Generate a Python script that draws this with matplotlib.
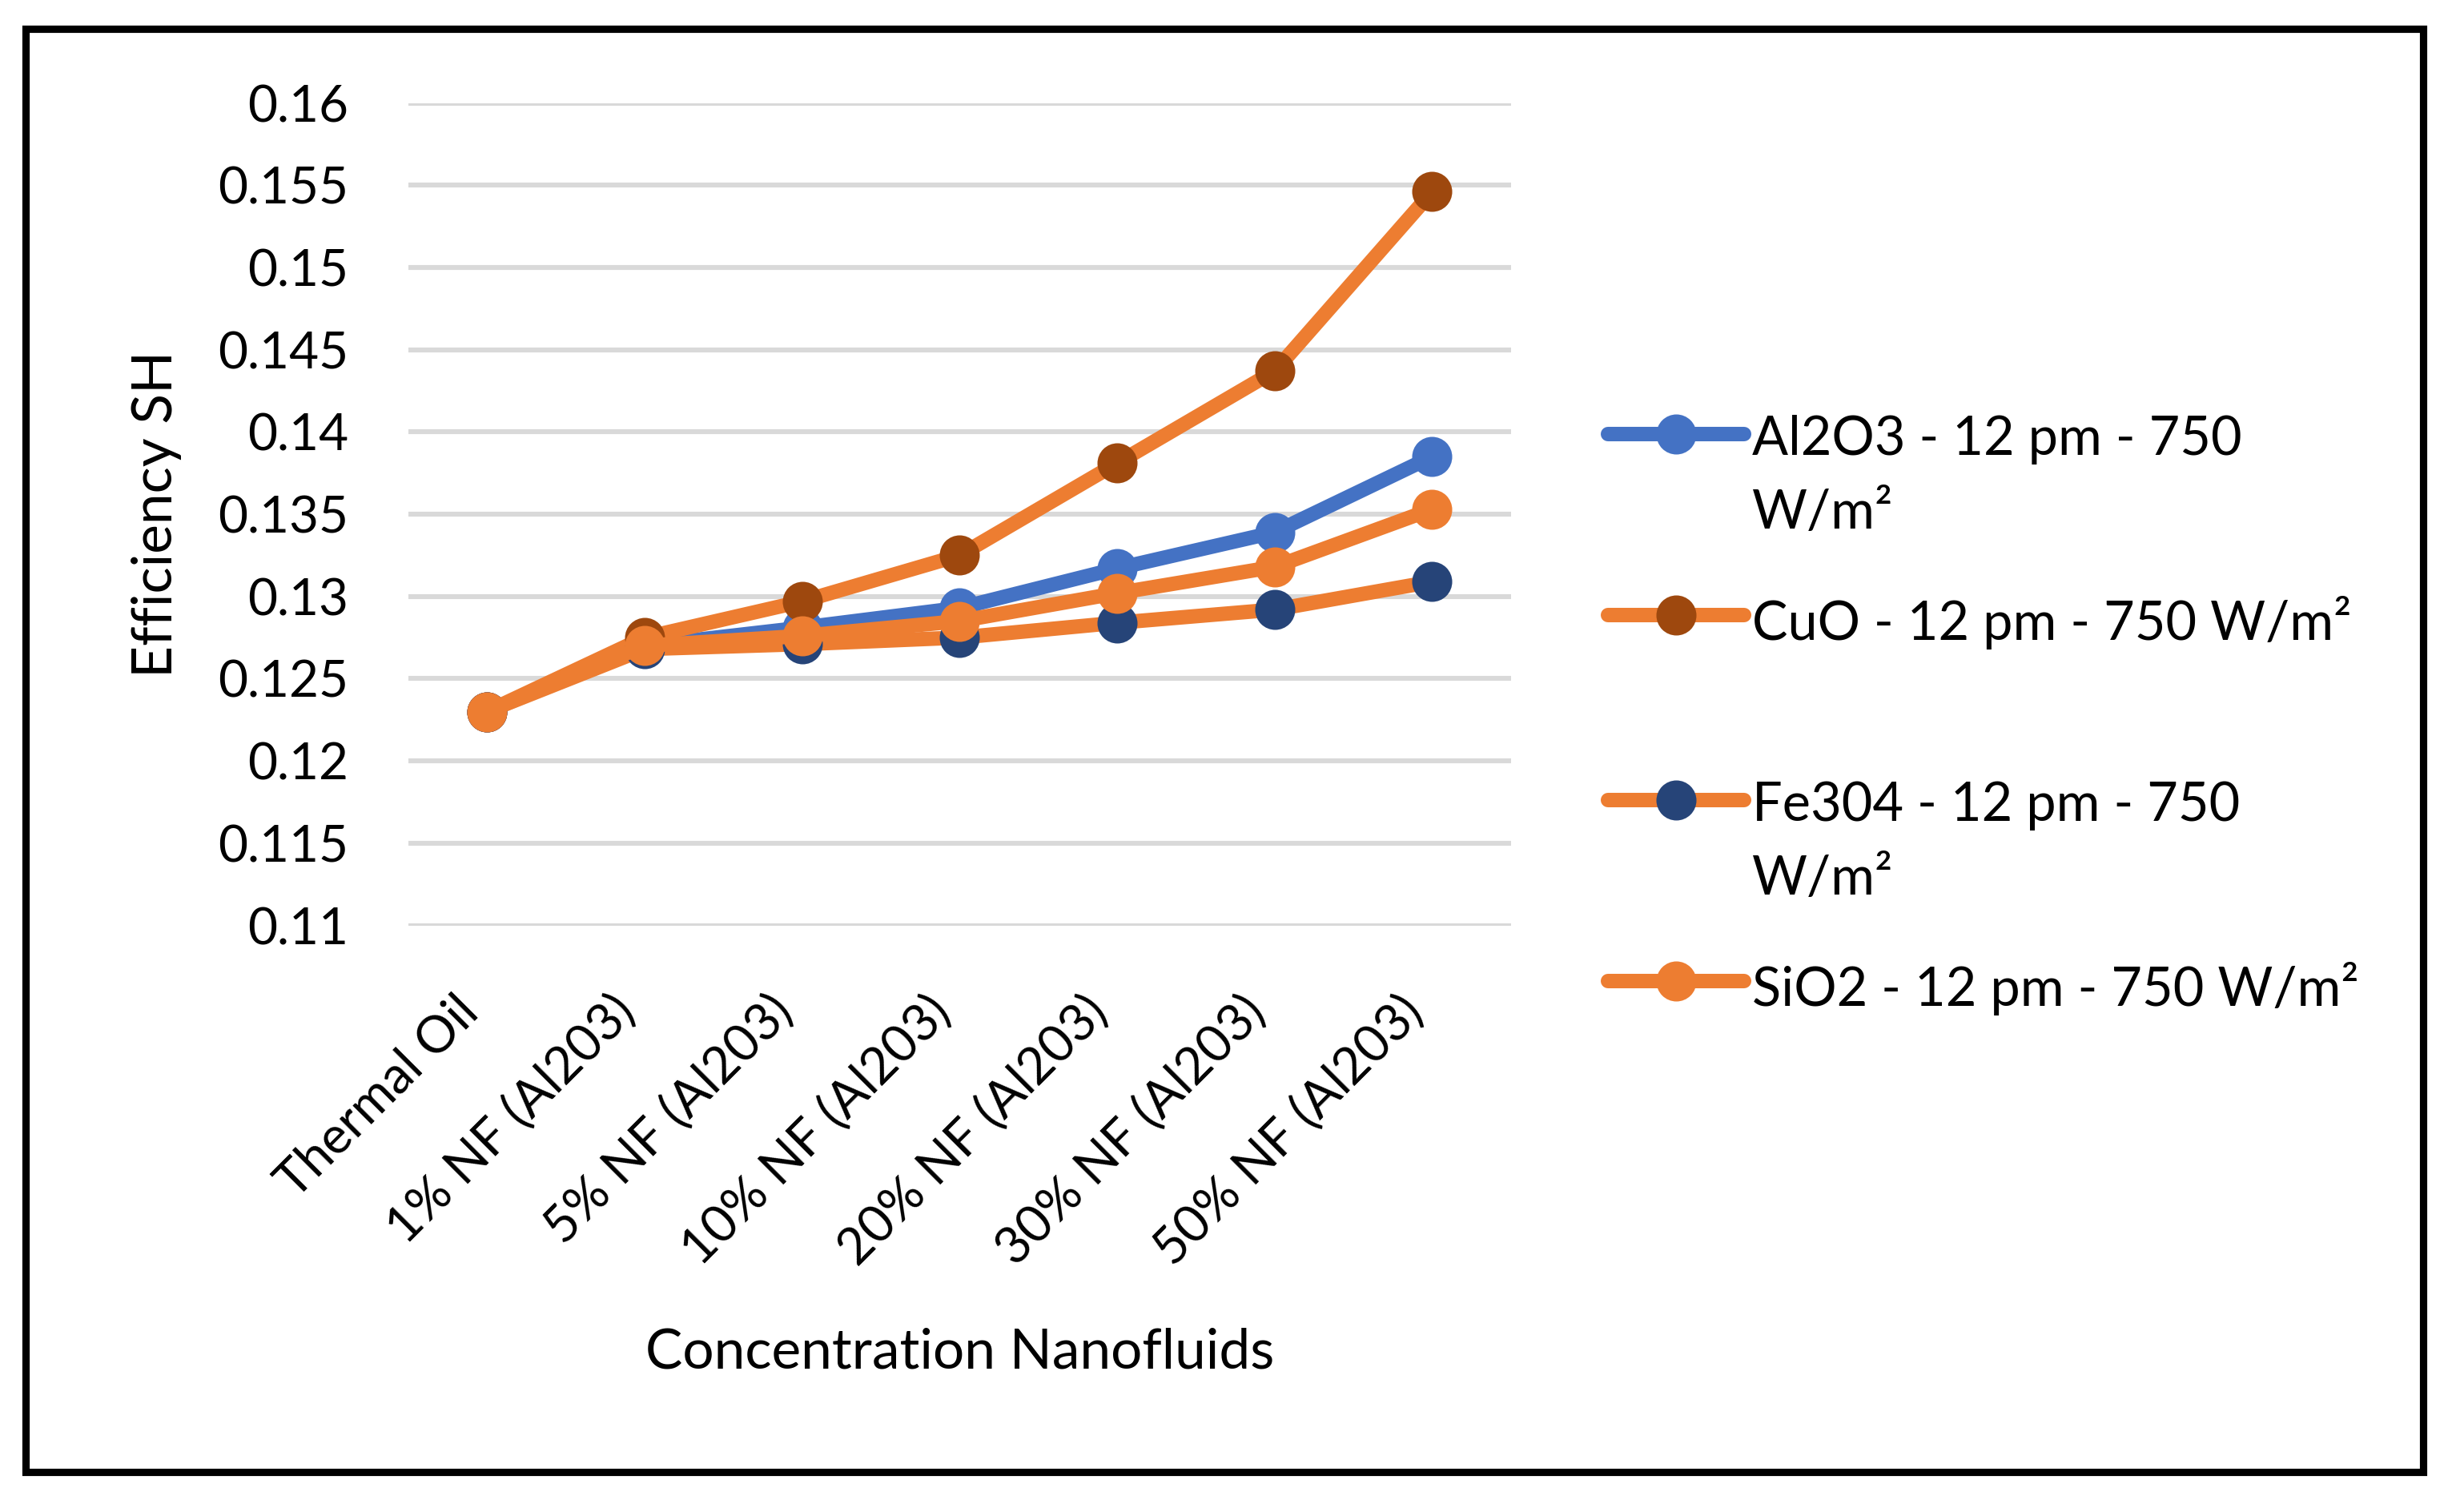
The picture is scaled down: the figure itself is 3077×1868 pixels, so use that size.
import matplotlib
matplotlib.use("Agg")
import matplotlib.pyplot as plt
from matplotlib.patches import Rectangle

plt.rcParams['font.family'] = ['Lato', 'DejaVu Sans']

categories = ["Thermal Oil", "1% NF (Al203)", "5% NF (Al203)", "10% NF (Al203)",
              "20% NF (Al203)", "30% NF (Al203)", "50% NF (Al203)"]

al2o3 = [0.1230, 0.1270, 0.1281, 0.1293, 0.1317, 0.1339, 0.1385]
cuo = [0.1230, 0.1275, 0.1297, 0.1325, 0.1381, 0.1437, 0.1546]
fe3o4 = [0.1230, 0.1268, 0.1271, 0.1275, 0.1284, 0.1292, 0.1309]
sio2 = [0.1230, 0.1270, 0.1276, 0.1285, 0.1302, 0.1318, 0.1353]

# second line kept empty for the short labels so every legend slot has the same height
labels = ["Al2O3 - 12 pm - 750\nW/m²", "CuO - 12 pm - 750 W/m²\n ",
          "Fe304 - 12 pm - 750\nW/m²", "SiO2 - 12 pm - 750 W/m²\n "]
line_colors = ["#4472C4", "#ED7D31", "#ED7D31", "#ED7D31"]
marker_colors = ["#4472C4", "#9E480E", "#264478", "#ED7D31"]

yticks = [0.11, 0.115, 0.12, 0.125, 0.13, 0.135, 0.14, 0.145, 0.15, 0.155, 0.16]

fig = plt.figure(figsize=(15.385, 9.34), dpi=200)
ax = fig.add_axes([0.1657, 0.3814, 0.4475, 0.5498])

x = range(len(categories))
for vals, lab, lc, mc in zip([al2o3, cuo, fe3o4, sio2], labels, line_colors, marker_colors):
    ax.plot(x, vals, '-o', color=lc, lw=6.5, markersize=17,
            markerfacecolor=mc, markeredgecolor=mc, label=lab,
            solid_capstyle='round', solid_joinstyle='round')

ax.set_xlim(-0.5, len(categories) - 0.5)
ax.set_ylim(0.11, 0.16)
ax.set_yticks(yticks)
ax.set_yticklabels([f"{v:g}" for v in yticks])
ax.grid(axis='y', color='#D9D9D9', lw=2.2)
ax.set_axisbelow(True)
for s in ax.spines.values():
    s.set_visible(False)
ax.tick_params(axis='both', length=0, labelsize=23)
ax.tick_params(axis='y', pad=27)
ax.tick_params(axis='x', pad=28)
ax.set_xticks(list(x))
ax.set_xticklabels(categories, rotation=45, ha='right', va='top')

ax.set_xlabel("Concentration Nanofluids", fontsize=25, labelpad=24)
ax.set_ylabel("Efficiency SH", fontsize=25, labelpad=16)

leg = ax.legend(loc='upper left', bbox_to_anchor=(0.6526, 0.7225),
                bbox_transform=fig.transFigure, frameon=False, fontsize=24,
                handlelength=2.55, handletextpad=0.15, borderpad=0,
                borderaxespad=0, labelspacing=1.08)
for t in leg.get_texts():
    t.set_linespacing(1.6)
for col in leg._legend_handle_box.get_children():
    for item in col.get_children():
        item.align = 'top'

fig.patches.append(Rectangle((0.0104, 0.0161), 0.9730, 0.9647, transform=fig.transFigure,
                             fill=False, edgecolor='black', lw=3.3))

fig.savefig("out.png", dpi=200)
